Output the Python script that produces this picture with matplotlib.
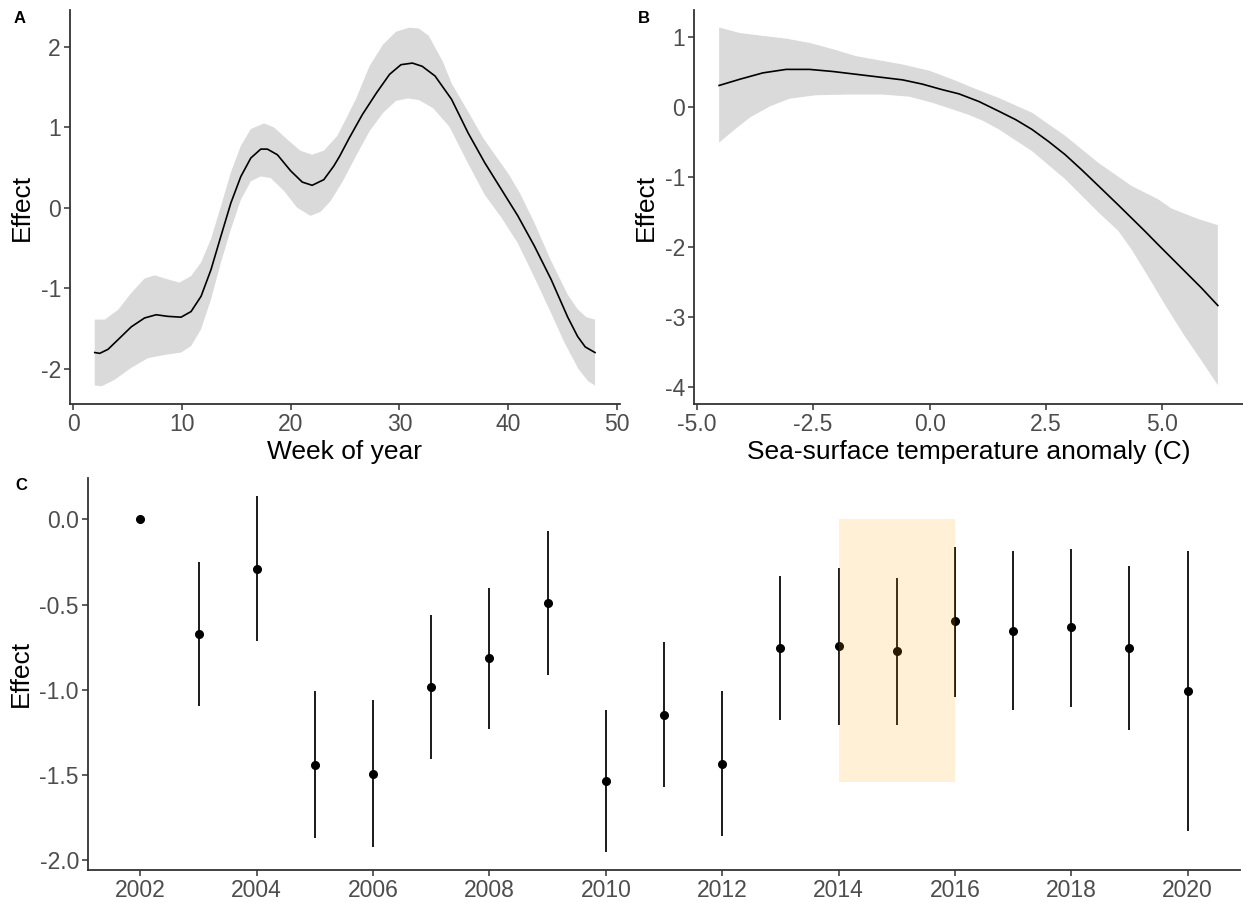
import matplotlib
matplotlib.use("Agg")
import matplotlib.pyplot as plt
from matplotlib.patches import Rectangle
from matplotlib.ticker import FormatStrFormatter

plt.rcParams["font.family"] = ["Liberation Sans", "DejaVu Sans"]
plt.rcParams["axes.unicode_minus"] = False

# --- Panel A: seasonal smooth (week of year) ---
week = [1.98, 2.44, 3.2, 4.12, 5.34, 6.56, 7.63, 8.7, 9.92, 10.84, 11.76, 12.67,
        13.59, 14.5, 15.42, 16.34, 17.25, 17.86, 18.78, 20.0, 21.07, 21.98,
        23.05, 23.97, 24.5, 25.4, 26.6, 27.9, 29.1, 30.15, 31.2, 32.1, 33.28,
        34.8, 36.33, 37.86, 39.38, 40.9, 42.44, 43.96, 45.49, 46.4, 47.1, 48.0]
week_fit = [-1.80, -1.81, -1.76, -1.64, -1.48, -1.37, -1.33, -1.35, -1.36, -1.29,
            -1.10, -0.77, -0.35, 0.06, 0.39, 0.62, 0.73, 0.73, 0.66, 0.46, 0.32,
            0.28, 0.35, 0.52, 0.64, 0.87, 1.16, 1.43, 1.66, 1.78, 1.80, 1.76,
            1.64, 1.35, 0.93, 0.56, 0.23, -0.10, -0.48, -0.89, -1.36, -1.60,
            -1.73, -1.80]

week_up_x = [1.98, 2.9, 4.12, 5.34, 6.56, 7.48, 8.7, 9.77, 10.84, 11.76, 12.67,
             13.59, 14.5, 15.42, 16.34, 17.56, 18.47, 19.69, 20.9, 21.98, 23.05,
             24.27, 25.0, 26.0, 27.25, 28.5, 29.7, 30.9, 31.8, 32.7, 34.0, 34.8,
             36.4, 37.7, 38.9, 40.1, 41.1, 42.44, 43.96, 45.49, 46.4, 47.2, 48.0]
week_upper = [-1.39, -1.39, -1.27, -1.06, -0.88, -0.84, -0.89, -0.93, -0.85,
              -0.68, -0.39, 0.02, 0.44, 0.77, 0.98, 1.05, 1.00, 0.85, 0.71, 0.66,
              0.71, 0.89, 1.08, 1.35, 1.76, 2.03, 2.19, 2.24, 2.23, 2.14, 1.82,
              1.55, 1.18, 0.87, 0.64, 0.41, 0.18, -0.19, -0.66, -1.08, -1.26,
              -1.36, -1.39]
week_lo_x = [1.98, 2.6, 3.8, 5.34, 6.87, 8.4, 9.92, 10.84, 11.76, 12.67, 13.59,
             14.5, 15.42, 16.34, 17.25, 18.17, 19.39, 20.61, 21.83, 22.75, 23.66,
             24.8, 26.0, 27.25, 28.5, 29.7, 30.8, 31.8, 33.1, 34.6, 36.33, 37.86,
             39.38, 40.9, 42.44, 43.96, 45.2, 46.5, 47.4, 48.0]
week_lower = [-2.21, -2.22, -2.14, -1.99, -1.87, -1.83, -1.80, -1.72, -1.51,
              -1.14, -0.68, -0.27, 0.10, 0.33, 0.39, 0.37, 0.21, 0.00, -0.10,
              -0.05, 0.08, 0.33, 0.64, 0.95, 1.18, 1.33, 1.36, 1.34, 1.24, 1.01,
              0.55, 0.16, -0.12, -0.44, -0.87, -1.31, -1.68, -2.01, -2.16, -2.21]

# --- Panel B: sea-surface temperature anomaly smooth ---
sst = [-4.52, -4.07, -3.58, -3.08, -2.58, -2.08, -1.58, -1.08, -0.58, -0.16,
       0.27, 0.63, 1.06, 1.49, 1.85, 2.20, 2.55, 2.91, 3.27, 3.63, 4.05, 4.34,
       4.63, 4.91, 5.12, 5.48, 5.84, 6.19]
sst_fit = [0.31, 0.40, 0.49, 0.54, 0.54, 0.51, 0.47, 0.43, 0.39, 0.33, 0.25,
           0.19, 0.08, -0.06, -0.18, -0.32, -0.49, -0.68, -0.90, -1.13, -1.40,
           -1.59, -1.78, -1.97, -2.11, -2.35, -2.59, -2.84]

sst_up_x = [-4.52, -4.07, -3.58, -3.08, -2.58, -2.08, -1.58, -1.08, -0.58, 0.0,
            0.48, 0.84, 1.49, 2.20, 2.91, 3.63, 4.34, 4.91, 5.19, 5.76, 6.19]
sst_upper = [1.14, 1.06, 1.02, 0.98, 0.92, 0.83, 0.73, 0.67, 0.61, 0.52, 0.40,
             0.30, 0.13, -0.08, -0.41, -0.80, -1.13, -1.32, -1.45, -1.60, -1.69]
sst_lo_x = [-4.52, -4.22, -3.86, -3.43, -3.01, -2.44, -1.72, -1.01, -0.44, 0.07,
            0.48, 0.84, 1.16, 1.49, 2.20, 2.91, 3.63, 4.05, 4.34, 4.77, 5.12,
            5.48, 5.84, 6.19]
sst_lower = [-0.51, -0.34, -0.15, 0.01, 0.12, 0.17, 0.18, 0.18, 0.15, 0.06,
             -0.03, -0.11, -0.20, -0.32, -0.63, -1.03, -1.51, -1.77, -2.04,
             -2.51, -2.90, -3.28, -3.63, -3.98]

# --- Panel C: year effects with intervals ---
years = list(range(2002, 2021))
year_effect = [0.0, -0.672, -0.290, -1.442, -1.494, -0.986, -0.816, -0.490,
               -1.535, -1.147, -1.434, -0.756, -0.746, -0.773, -0.599, -0.653,
               -0.634, -0.756, -1.008]
year_upper = [0.0, -0.250, 0.138, -1.006, -1.060, -0.564, -0.401, -0.070,
              -1.118, -0.721, -1.010, -0.335, -0.287, -0.343, -0.161, -0.184,
              -0.171, -0.275, -0.184]
year_lower = [0.0, -1.097, -0.715, -1.872, -1.922, -1.409, -1.229, -0.911,
              -1.952, -1.572, -1.860, -1.176, -1.205, -1.205, -1.041, -1.118,
              -1.099, -1.234, -1.829]

# highlighted period
hl_start, hl_end = 2014, 2016
hl_top, hl_bottom = 0.0, -1.54

BAND = "#DADADA"
TICK_COL = "#4D4D4D"
TICK_SIZE = 16.5
TITLE_SIZE = 19


def style(ax):
    for s in ("top", "right"):
        ax.spines[s].set_visible(False)
    for s in ("left", "bottom"):
        ax.spines[s].set_linewidth(1.3)
        ax.spines[s].set_color("#333333")
    ax.tick_params(axis="both", length=4, width=1.1, color="#333333",
                   labelsize=TICK_SIZE, labelcolor=TICK_COL, pad=2.5)


def band(ax, ux, uy, lx, ly):
    ax.fill(list(ux) + list(lx)[::-1], list(uy) + list(ly)[::-1],
            color=BAND, lw=0)


fig = plt.figure(figsize=(12.43, 9.02), dpi=100)

# Panel A
axA = fig.add_axes([0.0563, 0.5521, 0.4425, 0.4368])
band(axA, week_up_x, week_upper, week_lo_x, week_lower)
axA.plot(week, week_fit, color="black", lw=1.2)
axA.set_xlim(-0.3, 50.3)
axA.set_ylim(-2.44, 2.46)
axA.set_xticks([0, 10, 20, 30, 40, 50])
axA.set_yticks([-2, -1, 0, 1, 2])
axA.set_xlabel("Week of year", fontsize=TITLE_SIZE, labelpad=3)
axA.set_ylabel("Effect", fontsize=TITLE_SIZE, labelpad=5)
style(axA)

# Panel B
axB = fig.add_axes([0.5583, 0.5521, 0.4417, 0.4368])
band(axB, sst_up_x, sst_upper, sst_lo_x, sst_lower)
axB.plot(sst, sst_fit, color="black", lw=1.2)
axB.set_xlim(-5.06, 6.73)
axB.set_ylim(-4.25, 1.39)
axB.set_xticks([-5.0, -2.5, 0.0, 2.5, 5.0])
axB.xaxis.set_major_formatter(FormatStrFormatter("%.1f"))
axB.set_yticks([-4, -3, -2, -1, 0, 1])
axB.set_xlabel("Sea-surface temperature anomaly (C)", fontsize=TITLE_SIZE, labelpad=3)
axB.set_ylabel("Effect", fontsize=TITLE_SIZE, labelpad=5)
style(axB)

# Panel C
axC = fig.add_axes([0.0708, 0.036, 0.9268, 0.434])
for yr, lo, hi in zip(years, year_lower, year_upper):
    if hi != lo:
        axC.plot([yr, yr], [lo, hi], color="#1a1a1a", lw=1.4, solid_capstyle="butt")
axC.plot(years, year_effect, "o", color="black", ms=5.5, zorder=3)
axC.add_patch(Rectangle((hl_start, hl_bottom), hl_end - hl_start, hl_top - hl_bottom,
                        facecolor="#FFA500", alpha=0.16, lw=0, zorder=4))
axC.set_xlim(2001.1, 2020.9)
axC.set_ylim(-2.056, 0.243)
axC.set_xticks(list(range(2002, 2021, 2)))
axC.set_yticks([-2.0, -1.5, -1.0, -0.5, 0.0])
axC.yaxis.set_major_formatter(FormatStrFormatter("%.1f"))
axC.set_ylabel("Effect", fontsize=TITLE_SIZE, labelpad=5)
style(axC)

fig.text(0.011, 0.980, "A", fontsize=12, fontweight="bold", va="center", ha="left")
fig.text(0.513, 0.980, "B", fontsize=12, fontweight="bold", va="center", ha="left")
fig.text(0.012, 0.462, "C", fontsize=12, fontweight="bold", va="center", ha="left")

fig.savefig("out.png", dpi=100)
